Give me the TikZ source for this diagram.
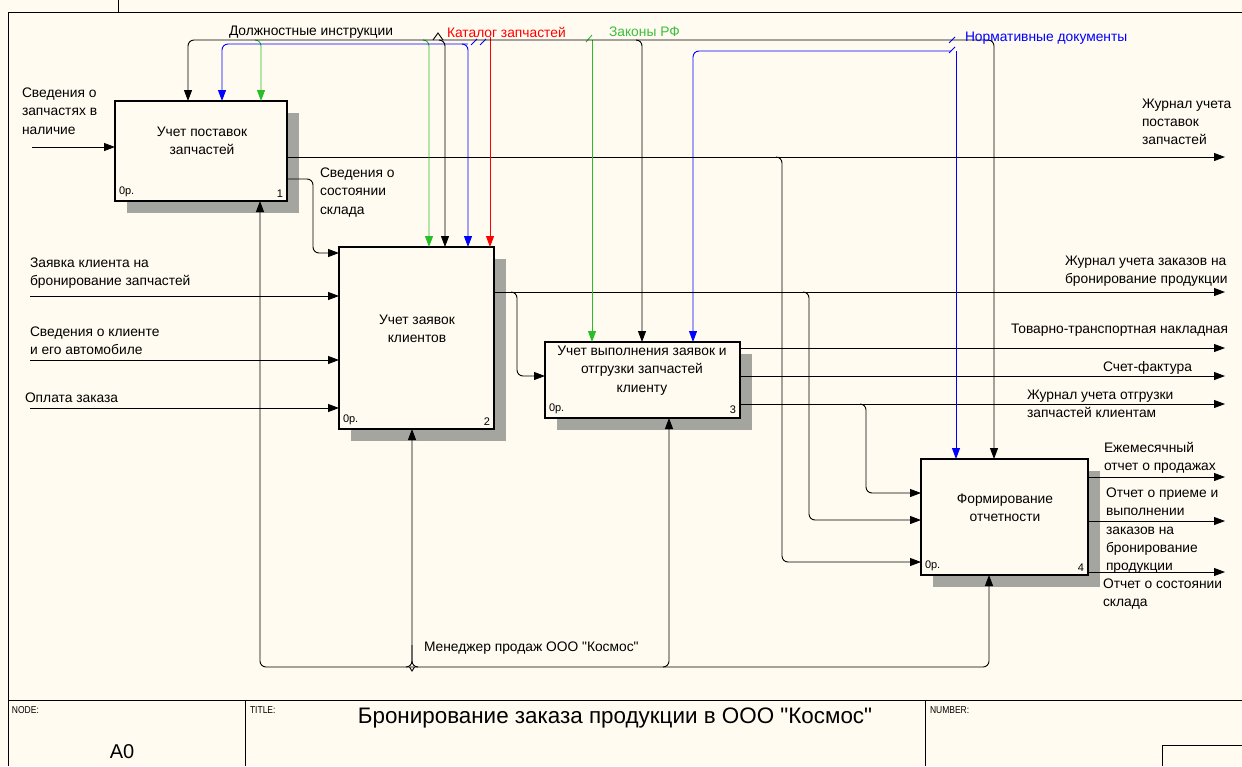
\documentclass[tikz,border=0pt]{standalone}
\usepackage{fontspec}
\setmainfont[Ligatures=TeXOff]{Liberation Sans}
\newfontfamily\narrowfont[FakeStretch=0.85]{Liberation Sans}
\usetikzlibrary{arrows.meta,shadows,calc}
\definecolor{paper}{RGB}{255,251,240}
\definecolor{ctlblue}{RGB}{0,0,255}
\definecolor{ctlgreen}{RGB}{40,190,40}
\definecolor{ctlred}{RGB}{255,0,0}
\definecolor{lawgreen}{RGB}{60,190,60}
\definecolor{hatch}{RGB}{165,165,160}
\newcommand\lblsize{\fontsize{13.8}{18.2}\selectfont}
\newcommand\tagsize{\fontsize{11}{13}\selectfont}
\begin{document}
\begin{tikzpicture}[x=1pt,y=-1pt,
  every node/.style={inner sep=0pt,outer sep=0pt},
  proc/.style={draw,line width=2pt,fill=paper,
    drop shadow={shadow xshift=12pt,shadow yshift=-12pt,fill=hatch,opacity=1}},
  proctext/.style={font=\lblsize,align=center},
  tag/.style={font=\tagsize},
  lbl/.style={font=\lblsize,align=left,anchor=north west},
  wire/.style={line width=0.9pt,rounded corners=6pt},
  arr/.style={wire,-{Triangle[length=11pt,width=8pt]}},
  arrB/.style={arr,ctlblue},
  arrG/.style={arr,ctlgreen},
  arrR/.style={arr,ctlred},
  frame/.style={line width=1pt}]

% sheet
\useasboundingbox (0,0) rectangle (1242,766);
\fill[paper] (0,0) rectangle (1242,766);

% drawing frame and title block
\draw[frame] (8,766) -- (8,12) -- (1242,12);
\draw[frame] (118,0) -- (118,12);
\draw[frame] (8,700) -- (1242,700);
\draw[frame] (245,700) -- (245,766);
\draw[frame] (925,700) -- (925,766);
\draw[frame] (1162,766) -- (1162,745) -- (1242,745);
\node[font=\narrowfont\fontsize{10}{12}\selectfont,anchor=north west] (fnode) at (12,707) {NODE:};
\node[font=\narrowfont\fontsize{10}{12}\selectfont,anchor=north west] (ftitle) at (250,707) {TITLE:};
\node[font=\narrowfont\fontsize{10}{12}\selectfont,anchor=north west] (fnum) at (930,707) {NUMBER:};
\node[font=\fontsize{20}{22}\selectfont] (fa0) at (122,752) {A0};
\node[font=\fontsize{22.4}{26}\selectfont] (ftext) at (615,718) {Бронирование заказа продукции в ООО "Космос"};

% activity boxes
\node[proc,minimum width=172pt,minimum height=100pt] (b1) at (201,151) {};
\node[proc,minimum width=155pt,minimum height=182pt] (b2) at (416.5,338) {};
\node[proc,minimum width=195pt,minimum height=76pt] (b3) at (642.5,380) {};
\node[proc,minimum width=167pt,minimum height=116pt] (b4) at (1004.5,517) {};

\node[proctext] (t1) at (202,140.5) {Учет поставок\\запчастей};
\node[proctext] (t2) at (417,329) {Учет заявок\\клиентов};
\node[proctext] (t3) at (642,370.5) {Учет выполнения заявок и\\отгрузки запчастей\\клиенту};
\node[proctext] (t4) at (1005,508) {Формирование\\отчетности};

\node[tag,anchor=south west] (c1) at ($(b1.south west)+(4,-4)$) {0р.};
\node[tag,anchor=south east] (n1) at ($(b1.south east)+(-4,-4)$) {1};
\node[tag,anchor=south west] (c2) at ($(b2.south west)+(4,-4)$) {0р.};
\node[tag,anchor=south east] (n2) at ($(b2.south east)+(-4,-4)$) {2};
\node[tag,anchor=south west] (c3) at ($(b3.south west)+(4,-4)$) {0р.};
\node[tag,anchor=south east] (n3) at ($(b3.south east)+(-4,-4)$) {3};
\node[tag,anchor=south west] (c4) at ($(b4.south west)+(4,-4)$) {0р.};
\node[tag,anchor=south east] (n4) at ($(b4.south east)+(-4,-4)$) {4};

% inputs
\coordinate (s1) at (32,147);
\coordinate (s2) at (30,296);
\coordinate (s3) at (30,360);
\coordinate (s4) at (30,408);
\draw[arr] (s1) -- (s1 -| b1.west);
\draw[arr] (s2) -- (s2 -| b2.west);
\draw[arr] (s3) -- (s3 -| b2.west);
\draw[arr] (s4) -- (s4 -| b2.west);
\node[lbl] (ls1) at (22,88) {Сведения о\\запчастях в\\наличие};
\node[lbl] (ls2) at (30,258) {Заявка клиента на\\бронирование запчастей};
\node[lbl] (ls3) at (30,327) {Сведения о клиенте\\и его автомобиле};
\node[lbl] (ls4) at (25,393) {Оплата заказа};

% outputs leaving the diagram
\coordinate (e1) at (1225,157);
\coordinate (e2) at (1225,292);
\coordinate (e3) at (1225,348);
\coordinate (e4) at (1225,376);
\coordinate (e5) at (1225,404);
\coordinate (e6) at (1225,477);
\coordinate (e7) at (1225,521);
\coordinate (e8) at (1225,572);
\draw[arr] (e1 -| b1.east) -- (e1);
\draw[arr] (e2 -| b2.east) -- (e2);
\draw[arr] (e3 -| b3.east) -- (e3);
\draw[arr] (e4 -| b3.east) -- (e4);
\draw[arr] (e5 -| b3.east) -- (e5);
\draw[arr] (e6 -| b4.east) -- (e6);
\draw[arr] (e7 -| b4.east) -- (e7);
\draw[arr] (e8 -| b4.east) -- (e8);
\node[lbl] (le1) at (1142,99) {Журнал учета\\поставок\\запчастей};
\node[lbl] (le2) at (1065,256) {Журнал учета заказов на\\бронирование продукции};
\node[lbl] (le3) at (1011,324) {Товарно-транспортная накладная};
\node[lbl] (le4) at (1103,361) {Счет-фактура};
\node[lbl] (le5) at (1027,390) {Журнал учета отгрузки\\запчастей клиентам};
\node[lbl] (le6) at (1104,442) {Ежемесячный\\отчет о продажах};
\node[lbl] (le7) at (1106,488) {Отчет о приеме и\\выполнении\\заказов на\\бронирование\\продукции};
\node[lbl] (le8) at (1103,579) {Отчет о состоянии\\склада};

% links between activities
\coordinate (k1) at (776,157);
\coordinate (k2) at (511,292);
\coordinate (k3) at (803,292);
\coordinate (k4) at (860,404);
\draw[arr] (b1.east |- 0,179) -| (313,253) -- (313,253 -| b2.west);
\node[lbl] (lk) at (320,168) {Сведения о\\состоянии\\склада};
\draw[arr] (k1) -| (782,562) -- (782,562 -| b4.west);
\draw[arr] (k2) -| (517,376) -- (517,376 -| b3.west);
\draw[arr] (k3) -| (809,520) -- (809,520 -| b4.west);
\draw[arr] (k4) -| (866,493) -- (866,493 -| b4.west);

% mechanism
\coordinate (m) at (412,667);
\draw[arr] (m) -| (b1.south -| 260,0);
\draw[arr] (m) -| (b4.south -| 989,0);
\draw[arr] (406,667) -| (b2.south -| 412,0);
\draw[wire] (418,667) -| (412,645);
\draw[line width=0.9pt] (409.5,667) -- (412,671) -- (414.5,667);
\draw[arr] (663,667) -| (b3.south -| 669,0);
\node[font=\lblsize,anchor=west] (lm) at (424,648) {Менеджер продаж ООО "Космос"};

% controls: green
\draw[arrG] (255,40) -| (b1.north -| 261,0);
\draw[arrG] (423,40) -| (b2.north -| 429,0);
\draw[arrG] (592,40) -- (b3.north -| 592,0);
\draw[line width=0.9pt,ctlgreen] (586,42) -- (592,35);
% controls: red
\draw[arrR] (490,37) -- (b2.north -| 490,0);
% controls: blue
\draw[arrB] (468,44) -| (b1.north -| 222,0);
\draw[arrB] (462,44) -| (b2.north -| 468,0);
\draw[line width=0.9pt,ctlblue] (471,45) -- (477,39);
\draw[line width=0.9pt,ctlblue] (480,45) -- (486,39);
\draw[arrB] (951,51) -| (b3.north -| 693,0);
\draw[arrB] (956,51) -- (b4.north -| 956,0);
\draw[line width=0.9pt,ctlblue] (949,53) -- (955,47);
\draw[line width=0.9pt,ctlblue] (949,43) -- (955,37);
% controls: black
\coordinate (cb) at (445,40);
\draw[arr] (cb) -| (b1.north -| 188,0);
\draw[arr] (439,40) -| (b2.north -| 445,0);
\draw[arr] (cb) -| (b3.north -| 642,0);
\draw[arr] (636,40) -| (b4.north -| 994,0);
\draw[line width=0.9pt] (433,40) -- (438,33) -- (443,40);

\node[font=\lblsize,anchor=west] (lc1) at (229,32) {Должностные инструкции};
\node[font=\lblsize,anchor=west,text=ctlred] (lc2) at (447,32) {Каталог запчастей};
\node[font=\lblsize,anchor=west,text=lawgreen] (lc3) at (609,32) {Законы РФ};
\node[font=\lblsize,anchor=west,text=ctlblue] (lc4) at (965,38) {Нормативные документы};
\end{tikzpicture}
\end{document}
